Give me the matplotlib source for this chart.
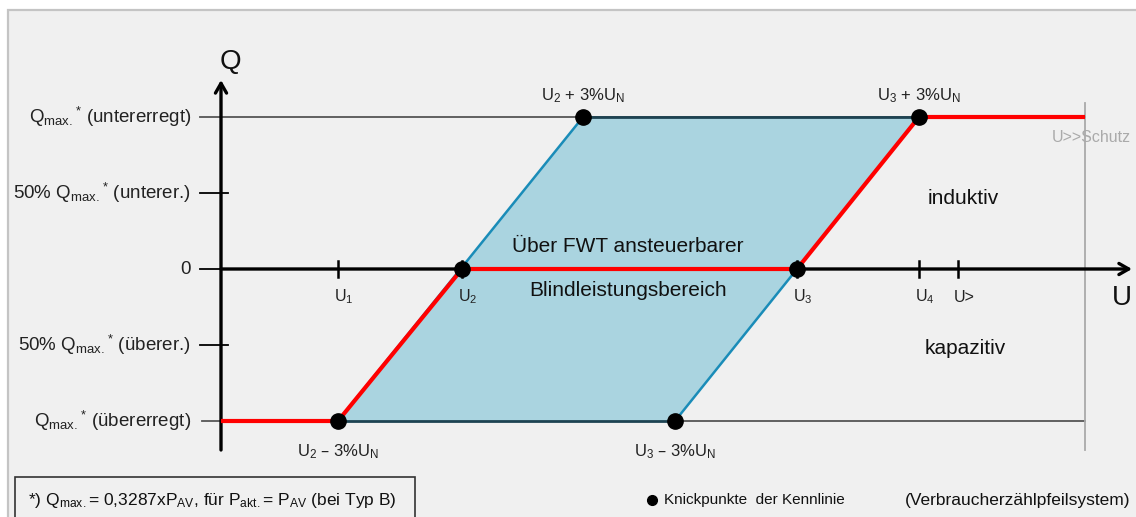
import matplotlib
matplotlib.use("Agg")
import matplotlib.pyplot as plt
from matplotlib.patches import Rectangle, Polygon

plt.rcParams['font.family'] = ['Liberation Sans', 'DejaVu Sans']
plt.rcParams['mathtext.default'] = 'regular'

# U axis positions (horizontal scale in px-like units), Q in units of Qmax
u_ticks = [338, 462, 797, 919, 958]
u_labels = ['U$_1$', 'U$_2$', 'U$_3$', 'U$_4$', 'U>']
q_ticks = [1, 0.5, 0, -0.5, -1]
q_labels = ['Q$_{max.}{}^{*}$ (untererregt)', '50% Q$_{max.}{}^{*}$ (unterer.)', '0',
            '50% Q$_{max.}{}^{*}$ (überer.)', 'Q$_{max.}{}^{*}$ (übererregt)']

# Kennlinie (red) and controllable range (blue parallelogram)
kennlinie_u = [221, 338, 462, 797, 919, 1085]
kennlinie_q = [-1, -1, 0, 0, 1, 1]
bereich_u = [338, 583, 919, 675]
bereich_q = [-1, 1, 1, -1]
knick_u = [338, 462, 583, 797, 919, 675]
knick_q = [-1, 0, 1, 0, 1, -1]
knick_labels = ['U$_2$ – 3%U$_N$', '', 'U$_2$ + 3%U$_N$', '', 'U$_3$ + 3%U$_N$', 'U$_3$ – 3%U$_N$']

W, H = 1136, 517
y0, scale = 269, 152.0


def q(py):
    # pixel row -> Q value
    return (y0 - py) / scale


fig = plt.figure(figsize=(W / 100, H / 100), dpi=100, facecolor='white')
ax = fig.add_axes([0, 0, 1, 1])
ax.set_xlim(0, W)
ax.set_ylim(q(H), q(0))
ax.axis('off')

# panel background with border
ax.add_patch(Rectangle((8, q(H + 20)), W, q(10) - q(H + 20), facecolor='#f0f0f0',
                       edgecolor='#c4c4c4', lw=1.6, zorder=0))

# grey reference lines at +-Qmax
ax.plot([200, 1085], [1, 1], color='#555555', lw=1.3, zorder=1)
ax.plot([202, 1085], [-1, -1], color='#555555', lw=1.3, zorder=1)
ax.plot([1085, 1085], [q(103), q(450)], color='#aaaaaa', lw=1.3, zorder=1)
ax.text(1052, q(138), 'U>>Schutz', color='#aaaaaa', fontsize=11.5, va='center', ha='left')

# y ticks
for qq in [0.5, 0, -0.5]:
    ax.plot([200, 228 if qq != 0 else 221], [qq, qq], color='black', lw=1.3, zorder=2)
for qq, lab in zip(q_ticks, q_labels):
    ax.text(191, qq, lab, ha='right', va='center', fontsize=13.5, color='#222222')

# area
ax.add_patch(Polygon(list(zip(bereich_u, bereich_q)), closed=True, facecolor='#aad4e0',
                     edgecolor='none', zorder=2))
ax.plot(bereich_u[:2], bereich_q[:2], color='#1a8cb8', lw=1.8, zorder=3)
ax.plot(bereich_u[2:], bereich_q[2:], color='#1a8cb8', lw=1.8, zorder=3)
ax.plot(bereich_u[1:3], bereich_q[1:3], color='#1d4352', lw=2, zorder=3)
ax.plot([bereich_u[0], bereich_u[3]], [bereich_q[0], bereich_q[3]], color='#1d4352', lw=2, zorder=3)

# axes with arrows
ax.annotate('', xy=(221, q(80)), xytext=(221, q(450)),
            arrowprops=dict(arrowstyle='->,head_length=0.7,head_width=0.4', lw=2.4,
                            color='black', shrinkA=0, shrinkB=0), zorder=4)
ax.annotate('', xy=(1132, 0), xytext=(221, 0),
            arrowprops=dict(arrowstyle='->,head_length=0.7,head_width=0.4', lw=2.4,
                            color='black', shrinkA=0, shrinkB=0), zorder=4)
ax.text(230, q(62), 'Q', fontsize=20, ha='center', va='center', color='#111111')
ax.text(1122, q(298), 'U', fontsize=20, ha='center', va='center', color='#111111')

for uu, lab in zip(u_ticks, u_labels):
    ax.plot([uu, uu], [q(261), q(277)], color='black', lw=1.8, zorder=4)
    ax.text(uu + 6, q(297), lab, fontsize=11.5, ha='center', va='center', color='#222222')

# Kennlinie
ax.plot(kennlinie_u, kennlinie_q, color='#ff0000', lw=3, zorder=5, solid_capstyle='butt')
ax.plot(knick_u, knick_q, 'o', color='black', ms=11, zorder=6)
for uu, qq, lab in zip(knick_u, knick_q, knick_labels):
    if lab:
        dy = -21 if qq > 0 else 31
        ax.text(uu, q(y0 - qq * scale + dy), lab, fontsize=12, ha='center', va='center',
                color='#222222')

ax.text(628, q(246), 'Über FWT ansteuerbarer', fontsize=15, ha='center', va='center', color='#111111')
ax.text(628, q(290), 'Blindleistungsbereich', fontsize=15, ha='center', va='center', color='#111111')
ax.text(963, q(199), 'induktiv', fontsize=15, ha='center', va='center', color='#111111')
ax.text(965, q(348), 'kapazitiv', fontsize=15, ha='center', va='center', color='#111111')

# footer
ax.add_patch(Rectangle((15, q(530)), 400, q(477) - q(530), facecolor='none',
                       edgecolor='#333333', lw=1.2, zorder=2))
ax.text(28, q(500), '*) Q$_{max.}$= 0,3287xP$_{AV}$, für P$_{akt.}$= P$_{AV}$ (bei Typ B)',
        fontsize=12.5, ha='left', va='center', color='#111111')
ax.plot([652], [q(500)], 'o', color='black', ms=7)
ax.text(664, q(500), 'Knickpunkte  der Kennlinie', fontsize=11, ha='left', va='center', color='#111111')
ax.text(1130, q(500), '(Verbraucherzählpfeilsystem)', fontsize=12.5, ha='right', va='center', color='#111111')

fig.savefig('out.png', dpi=100, facecolor='white')
